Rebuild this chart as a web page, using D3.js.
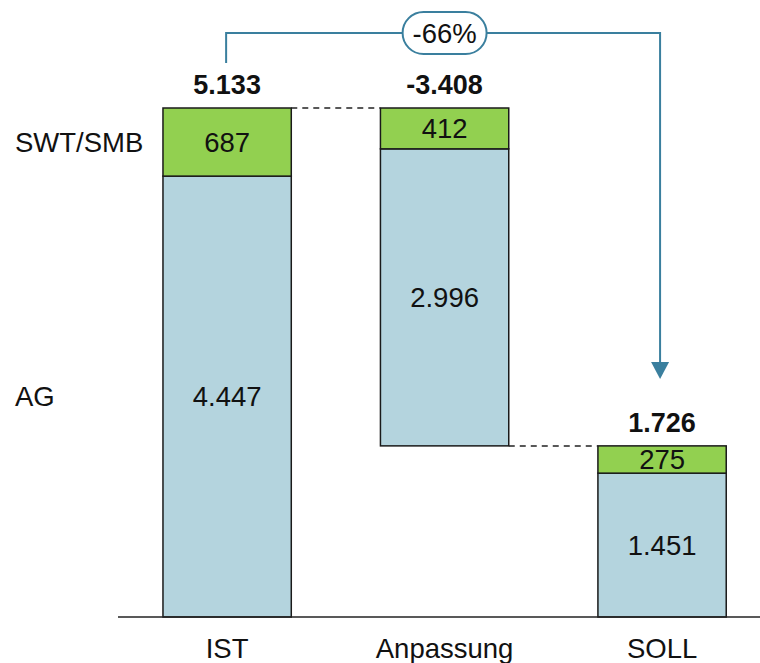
<!DOCTYPE html>
<html>
<head>
<meta charset="utf-8">
<script src="https://cdn.jsdelivr.net/npm/d3@7"></script>
<style>
  body { margin: 0; background: #fff; }
  text { font-family: "Liberation Sans", Arial, sans-serif; fill: #111; }
</style>
</head>
<body>
<div class="container"></div>
<script>
const categories = ['IST', 'Anpassung', 'SOLL'];
const agValues = [4447, 2996, 1451];
const swtValues = [687, 412, 275];
const totalLabels = ['5.133', '-3.408', '1.726'];
const agLabels = ['4.447', '2.996', '1.451'];
const swtLabels = ['687', '412', '275'];
const seriesNames = ['SWT/SMB', 'AG'];
const changeLabel = '-66%';

const width = 760;
const height = 663;

const svg = d3.select('.container')
    .append('svg')
    .attr('width', width)
    .attr('height', height);

const x = d3.scaleBand()
    .domain(categories)
    .range([108.6, 780.6])
    .paddingInner(0.41)
    .paddingOuter(0.25);

const y = d3.scaleLinear()
    .domain([0, agValues[0] + swtValues[0]])
    .range([617, 108]);

// waterfall: the adjustment floats on top of the target value
const soll = agValues[2] + swtValues[2];
const bases = [0, soll, 0];

const bars = categories.map((c, i) => ({
    cat: c,
    base: bases[i],
    ag: agValues[i],
    swt: swtValues[i],
    top: bases[i] + agValues[i] + swtValues[i]
}));

const g = svg.append('g');

// AG segments
g.selectAll('rect.ag')
    .data(bars)
    .enter()
    .append('rect')
    .attr('class', 'ag')
    .attr('x', d => x(d.cat))
    .attr('width', x.bandwidth())
    .attr('y', d => y(d.base + d.ag))
    .attr('height', d => y(d.base) - y(d.base + d.ag))
    .attr('fill', '#b4d4de')
    .attr('stroke', '#1a1a1a')
    .attr('stroke-width', 1.5);

// SWT/SMB segments
g.selectAll('rect.swt')
    .data(bars)
    .enter()
    .append('rect')
    .attr('class', 'swt')
    .attr('x', d => x(d.cat))
    .attr('width', x.bandwidth())
    .attr('y', d => y(d.top))
    .attr('height', d => y(d.base + d.ag) - y(d.top))
    .attr('fill', '#92d050')
    .attr('stroke', '#1a1a1a')
    .attr('stroke-width', 1.5);

// values inside
g.selectAll('text.agv')
    .data(bars)
    .enter()
    .append('text')
    .attr('x', d => x(d.cat) + x.bandwidth() / 2)
    .attr('y', d => (y(d.base) + y(d.base + d.ag)) / 2)
    .attr('dy', '0.36em')
    .attr('text-anchor', 'middle')
    .attr('font-size', 27.5)
    .text((d, i) => agLabels[i]);

g.selectAll('text.swtv')
    .data(bars)
    .enter()
    .append('text')
    .attr('x', d => x(d.cat) + x.bandwidth() / 2)
    .attr('y', d => (y(d.base + d.ag) + y(d.top)) / 2)
    .attr('dy', '0.36em')
    .attr('text-anchor', 'middle')
    .attr('font-size', 27.5)
    .text((d, i) => swtLabels[i]);

// totals above
g.selectAll('text.total')
    .data(bars)
    .enter()
    .append('text')
    .attr('x', d => x(d.cat) + x.bandwidth() / 2)
    .attr('y', d => y(d.top) - 14)
    .attr('text-anchor', 'middle')
    .attr('font-size', 27)
    .attr('font-weight', 'bold')
    .text((d, i) => totalLabels[i]);

// dashed connectors
const connectors = [
    { from: bars[0], to: bars[1], v: bars[0].top },
    { from: bars[1], to: bars[2], v: bars[1].base }
];
g.selectAll('line.conn')
    .data(connectors)
    .enter()
    .append('line')
    .attr('x1', d => x(d.from.cat) + x.bandwidth())
    .attr('x2', d => x(d.to.cat))
    .attr('y1', d => y(d.v))
    .attr('y2', d => y(d.v))
    .attr('stroke', '#222')
    .attr('stroke-width', 1.5)
    .attr('stroke-dasharray', '6,5');

// baseline
svg.append('line')
    .attr('x1', 118)
    .attr('x2', width)
    .attr('y1', y(0))
    .attr('y2', y(0))
    .attr('stroke', '#222')
    .attr('stroke-width', 1.5);

// category labels
svg.selectAll('text.cat')
    .data(categories)
    .enter()
    .append('text')
    .attr('x', d => x(d) + x.bandwidth() / 2)
    .attr('y', 658)
    .attr('text-anchor', 'middle')
    .attr('font-size', 27.5)
    .text(d => d);

// series labels on the left
svg.append('text')
    .attr('x', 15)
    .attr('y', (y(bars[0].top) + y(bars[0].ag)) / 2)
    .attr('dy', '0.36em')
    .attr('font-size', 27.5)
    .text(seriesNames[0]);

svg.append('text')
    .attr('x', 15)
    .attr('y', (y(0) + y(bars[0].ag)) / 2)
    .attr('dy', '0.36em')
    .attr('font-size', 27.5)
    .text(seriesNames[1]);

// change arrow from IST to SOLL
const arrowColor = '#3a7f9e';
const ax1 = x('IST') + x.bandwidth() / 2 - 1;
const ax2 = x('SOLL') + x.bandwidth() / 2 - 2;
const arrowTop = 33;

svg.append('path')
    .attr('d', `M${ax1},${y(bars[0].top) - 45} V${arrowTop} H${ax2} V${y(soll) - 84}`)
    .attr('fill', 'none')
    .attr('stroke', arrowColor)
    .attr('stroke-width', 2);

const tipY = y(soll) - 67;
svg.append('path')
    .attr('d', `M${ax2 - 9},${tipY - 17} L${ax2 + 9},${tipY - 17} L${ax2},${tipY} Z`)
    .attr('fill', arrowColor);

const lx = x('Anpassung') + x.bandwidth() / 2;
svg.append('rect')
    .attr('x', lx - 42)
    .attr('y', arrowTop - 21)
    .attr('width', 84)
    .attr('height', 42)
    .attr('rx', 21)
    .attr('fill', '#fff')
    .attr('stroke', arrowColor)
    .attr('stroke-width', 2);

svg.append('text')
    .attr('x', lx)
    .attr('y', arrowTop)
    .attr('dy', '0.36em')
    .attr('text-anchor', 'middle')
    .attr('font-size', 27.5)
    .text(changeLabel);
</script>
</body>
</html>
